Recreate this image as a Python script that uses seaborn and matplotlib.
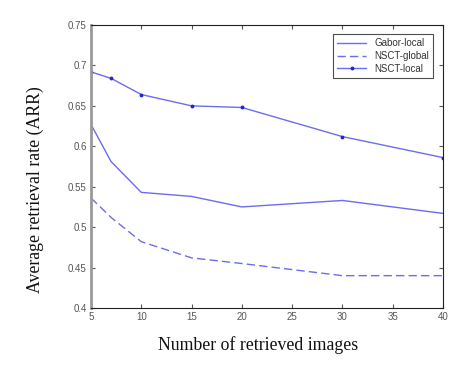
import matplotlib
matplotlib.use('Agg')
import matplotlib.pyplot as plt
import seaborn as sns

num_images = [5, 7, 10, 15, 20, 30, 40]
gabor_local = [0.627, 0.581, 0.543, 0.538, 0.525, 0.533, 0.517]
nsct_global = [0.536, 0.512, 0.482, 0.462, 0.455, 0.440, 0.440]
nsct_local = [0.692, 0.684, 0.664, 0.650, 0.648, 0.612, 0.586]

sns.set_style('white')
plt.rcParams['font.family'] = ['Liberation Sans', 'DejaVu Sans']

fig = plt.figure(figsize=(4.62, 3.65), dpi=100)
ax = fig.add_axes([91 / 462, 1 - 308 / 365, 352 / 462, 283 / 365])

line_color = '#6c6cf0'
sns.lineplot(x=num_images, y=gabor_local, color=line_color, linewidth=1.0,
             label='Gabor-local', ax=ax)
sns.lineplot(x=num_images, y=nsct_global, color=line_color, linewidth=1.0,
             dashes=False, linestyle=(0, (6, 3)), label='NSCT-global', ax=ax)
sns.lineplot(x=num_images, y=nsct_local, color=line_color, linewidth=1.0,
             marker='.', markersize=4, markerfacecolor='#2020d0',
             markeredgecolor='#2020d0', label='NSCT-local', ax=ax)

ax.set_xlim(5, 40)
ax.set_ylim(0.4, 0.75)
ax.set_xticks([5, 10, 15, 20, 25, 30, 35, 40])
ax.set_xticklabels(['5', '10', '15', '20', '25', '30', '35', '40'])
ax.set_yticks([0.4, 0.45, 0.5, 0.55, 0.6, 0.65, 0.7, 0.75])
ax.set_yticklabels(['0.4', '0.45', '0.5', '0.55', '0.6', '0.65', '0.7', '0.75'])
ax.tick_params(direction='in', length=3, width=0.8, labelsize=7, colors='#555555',
               top=True, right=True, bottom=True, left=True, pad=3)
for side in ['top', 'right', 'bottom']:
    ax.spines[side].set_color('#222222')
    ax.spines[side].set_linewidth(0.8)
ax.spines['left'].set_color('#999999')
ax.spines['left'].set_linewidth(2.0)

ax.set_xlabel('Number of retrieved images', family=['Liberation Serif'], fontsize=12.8,
              color='#111111')
ax.xaxis.set_label_coords(0.474, -0.1)
ax.set_ylabel('Average retrieval rate (ARR)', family=['Liberation Serif'], fontsize=12.8,
              color='#111111')
ax.yaxis.set_label_coords(-0.133, 0.42)

leg = ax.legend(loc='upper right', fontsize=7, frameon=True, fancybox=False,
                edgecolor='#222222', borderpad=0.4, handlelength=3.0, labelspacing=0.3,
                bbox_to_anchor=(0.985, 0.985))
leg.get_frame().set_linewidth(0.8)
for t in leg.get_texts():
    t.set_color('#333333')

fig.savefig('out.png', dpi=100, facecolor='white')
